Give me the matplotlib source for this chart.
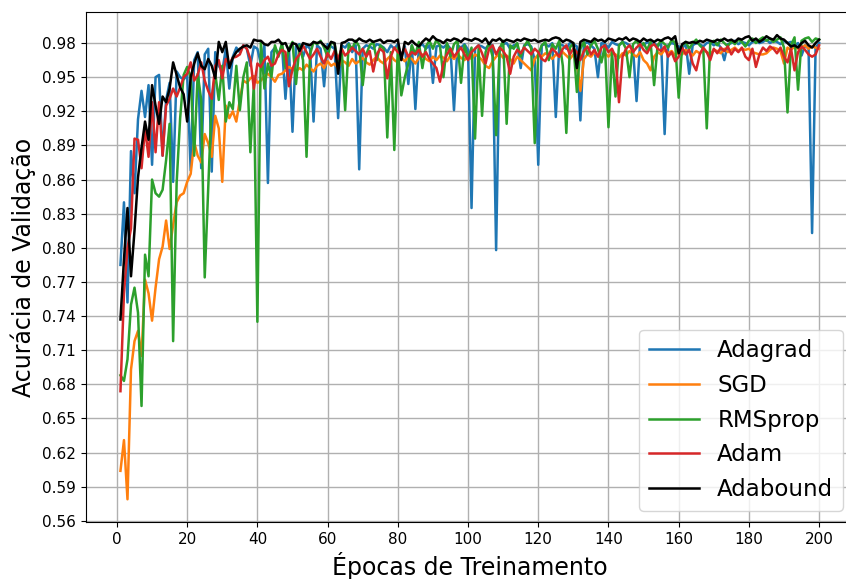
import numpy as np
import matplotlib
matplotlib.use("Agg")
import matplotlib.pyplot as plt

# validation accuracy per epoch
adagrad = [
    0.785, 0.840, 0.752, 0.885, 0.848, 0.913, 0.938, 0.915, 0.943, 0.873,
    0.950, 0.952, 0.881, 0.930, 0.945, 0.858, 0.955, 0.950, 0.948, 0.952,
    0.868, 0.965, 0.972, 0.870, 0.970, 0.975, 0.867, 0.972, 0.960, 0.955,
    0.975, 0.940, 0.968, 0.976, 0.972, 0.978, 0.975, 0.960, 0.977, 0.975,
    0.962, 0.978, 0.857, 0.972, 0.976, 0.970, 0.978, 0.931, 0.975, 0.902,
    0.977, 0.979, 0.968, 0.978, 0.975, 0.911, 0.978, 0.975, 0.942, 0.979,
    0.977, 0.975, 0.914, 0.978, 0.976, 0.980, 0.972, 0.978, 0.869, 0.975,
    0.978, 0.977, 0.975, 0.979, 0.978, 0.976, 0.972, 0.978, 0.975, 0.979,
    0.968, 0.977, 0.944, 0.978, 0.922, 0.977, 0.979, 0.975, 0.978, 0.945,
    0.977, 0.978, 0.976, 0.979, 0.975, 0.921, 0.978, 0.976, 0.979, 0.974,
    0.835, 0.975, 0.978, 0.977, 0.975, 0.979, 0.978, 0.798, 0.976, 0.979,
    0.980, 0.975, 0.978, 0.979, 0.958, 0.978, 0.979, 0.977, 0.965, 0.873,
    0.978, 0.979, 0.977, 0.980, 0.915, 0.979, 0.978, 0.975, 0.980, 0.979,
    0.977, 0.912, 0.979, 0.981, 0.978, 0.975, 0.950, 0.980, 0.979, 0.976,
    0.981, 0.979, 0.978, 0.981, 0.980, 0.978, 0.975, 0.929, 0.980, 0.978,
    0.981, 0.979, 0.980, 0.977, 0.980, 0.900, 0.978, 0.980, 0.979, 0.977,
    0.975, 0.980, 0.953, 0.978, 0.980, 0.979, 0.977, 0.980, 0.981, 0.978,
    0.980, 0.976, 0.965, 0.979, 0.980, 0.982, 0.979, 0.981, 0.980, 0.978,
    0.981, 0.982, 0.980, 0.981, 0.983, 0.980, 0.982, 0.981, 0.979, 0.982,
    0.980, 0.981, 0.978, 0.980, 0.969, 0.978, 0.975, 0.813, 0.976, 0.980,
]

sgd = [
    0.604, 0.631, 0.579, 0.693, 0.718, 0.727, 0.705, 0.772, 0.760, 0.736,
    0.765, 0.790, 0.801, 0.824, 0.799, 0.820, 0.840, 0.846, 0.848, 0.858,
    0.865, 0.893, 0.881, 0.875, 0.900, 0.892, 0.880, 0.916, 0.905, 0.858,
    0.925, 0.914, 0.920, 0.911, 0.930, 0.947, 0.945, 0.949, 0.951, 0.945,
    0.947, 0.951, 0.953, 0.950, 0.946, 0.952, 0.953, 0.956, 0.959, 0.957,
    0.955, 0.958, 0.956, 0.961, 0.958, 0.955, 0.960, 0.962, 0.958, 0.964,
    0.960, 0.962, 0.958, 0.965, 0.963, 0.960, 0.966, 0.962, 0.964, 0.967,
    0.963, 0.961, 0.965, 0.968, 0.964, 0.962, 0.966, 0.969, 0.965, 0.963,
    0.967, 0.964, 0.968, 0.966, 0.962, 0.967, 0.970, 0.966, 0.964, 0.968,
    0.965, 0.969, 0.967, 0.964, 0.969, 0.966, 0.970, 0.967, 0.965, 0.969,
    0.966, 0.970, 0.968, 0.965, 0.960, 0.958, 0.964, 0.968, 0.971, 0.967,
    0.969, 0.966, 0.962, 0.968, 0.965, 0.962, 0.959, 0.956, 0.966, 0.970,
    0.968, 0.971, 0.969, 0.966, 0.970, 0.968, 0.972, 0.969, 0.966, 0.970,
    0.962, 0.938, 0.966, 0.970, 0.968, 0.972, 0.969, 0.966, 0.971, 0.968,
    0.972, 0.970, 0.967, 0.971, 0.969, 0.973, 0.970, 0.968, 0.972, 0.965,
    0.962, 0.956, 0.968, 0.972, 0.970, 0.974, 0.971, 0.973, 0.969, 0.972,
    0.970, 0.974, 0.972, 0.969, 0.973, 0.971, 0.974, 0.972, 0.970, 0.974,
    0.973, 0.971, 0.975, 0.972, 0.974, 0.976, 0.973, 0.975, 0.974, 0.975,
    0.972, 0.971, 0.970, 0.970, 0.971, 0.974, 0.976, 0.975, 0.973, 0.962,
    0.976, 0.974, 0.977, 0.975, 0.976, 0.978, 0.975, 0.977, 0.976, 0.975,
]

rmsprop = [
    0.688, 0.683, 0.702, 0.750, 0.765, 0.743, 0.661, 0.794, 0.775, 0.860,
    0.848, 0.845, 0.851, 0.877, 0.909, 0.718, 0.857, 0.914, 0.952, 0.959,
    0.950, 0.881, 0.953, 0.930, 0.774, 0.852, 0.931, 0.953, 0.930, 0.960,
    0.911, 0.928, 0.922, 0.960, 0.921, 0.950, 0.963, 0.884, 0.945, 0.735,
    0.981, 0.940, 0.962, 0.950, 0.978, 0.968, 0.980, 0.958, 0.975, 0.981,
    0.944, 0.978, 0.965, 0.880, 0.970, 0.981, 0.979, 0.982, 0.976, 0.968,
    0.981, 0.979, 0.963, 0.975, 0.921, 0.979, 0.975, 0.982, 0.977, 0.943,
    0.970, 0.978, 0.981, 0.965, 0.978, 0.975, 0.897, 0.972, 0.886, 0.976,
    0.934, 0.950, 0.962, 0.978, 0.970, 0.981, 0.958, 0.977, 0.982, 0.975,
    0.983, 0.978, 0.950, 0.980, 0.968, 0.979, 0.982, 0.945, 0.978, 0.966,
    0.976, 0.896, 0.975, 0.916, 0.972, 0.980, 0.968, 0.899, 0.975, 0.982,
    0.909, 0.978, 0.975, 0.980, 0.968, 0.977, 0.982, 0.975, 0.892, 0.970,
    0.978, 0.981, 0.965, 0.979, 0.975, 0.982, 0.960, 0.901, 0.976, 0.980,
    0.937, 0.975, 0.981, 0.970, 0.978, 0.982, 0.975, 0.963, 0.978, 0.906,
    0.972, 0.933, 0.978, 0.981, 0.975, 0.950, 0.979, 0.982, 0.977, 0.980,
    0.974, 0.981, 0.943, 0.978, 0.982, 0.979, 0.976, 0.983, 0.980, 0.932,
    0.978, 0.981, 0.975, 0.980, 0.983, 0.978, 0.975, 0.905, 0.980, 0.982,
    0.978, 0.983, 0.980, 0.977, 0.982, 0.979, 0.983, 0.981, 0.977, 0.982,
    0.984, 0.980, 0.983, 0.985, 0.982, 0.984, 0.981, 0.983, 0.985, 0.976,
    0.919, 0.978, 0.985, 0.939, 0.982, 0.984, 0.985, 0.981, 0.984, 0.983,
]

adam = [
    0.674, 0.760, 0.800, 0.817, 0.896, 0.895, 0.870, 0.905, 0.880, 0.928,
    0.884, 0.928, 0.881, 0.925, 0.931, 0.940, 0.933, 0.941, 0.950, 0.953,
    0.963, 0.947, 0.952, 0.963, 0.947, 0.938, 0.931, 0.960, 0.965, 0.949,
    0.966, 0.962, 0.967, 0.968, 0.970, 0.978, 0.975, 0.966, 0.940, 0.962,
    0.959, 0.965, 0.968, 0.960, 0.962, 0.970, 0.974, 0.972, 0.942, 0.957,
    0.966, 0.970, 0.978, 0.972, 0.966, 0.970, 0.975, 0.968, 0.962, 0.971,
    0.966, 0.973, 0.966, 0.975, 0.969, 0.972, 0.976, 0.973, 0.970, 0.975,
    0.968, 0.973, 0.955, 0.970, 0.975, 0.972, 0.949, 0.968, 0.976, 0.972,
    0.970, 0.975, 0.968, 0.972, 0.970, 0.974, 0.968, 0.972, 0.966, 0.962,
    0.958, 0.946, 0.962, 0.970, 0.975, 0.968, 0.972, 0.976, 0.970, 0.965,
    0.972, 0.975, 0.978, 0.971, 0.962, 0.975, 0.978, 0.970, 0.976, 0.973,
    0.968, 0.953, 0.968, 0.974, 0.971, 0.976, 0.973, 0.970, 0.975, 0.972,
    0.966, 0.964, 0.970, 0.975, 0.972, 0.968, 0.975, 0.978, 0.970, 0.975,
    0.972, 0.965, 0.973, 0.977, 0.970, 0.974, 0.968, 0.976, 0.978, 0.972,
    0.975, 0.968, 0.928, 0.968, 0.975, 0.978, 0.972, 0.976, 0.979, 0.974,
    0.971, 0.977, 0.979, 0.975, 0.973, 0.977, 0.968, 0.972, 0.964, 0.968,
    0.976, 0.970, 0.974, 0.962, 0.956, 0.970, 0.976, 0.972, 0.965, 0.975,
    0.971, 0.976, 0.973, 0.977, 0.970, 0.975, 0.972, 0.976, 0.968, 0.965,
    0.975, 0.959, 0.970, 0.976, 0.973, 0.977, 0.975, 0.971, 0.976, 0.968,
    0.963, 0.975, 0.956, 0.972, 0.977, 0.974, 0.970, 0.968, 0.970, 0.978,
]

adabound = [
    0.737, 0.790, 0.835, 0.775, 0.815, 0.862, 0.888, 0.911, 0.895, 0.943,
    0.925, 0.909, 0.933, 0.928, 0.940, 0.963, 0.952, 0.941, 0.935, 0.911,
    0.950, 0.962, 0.971, 0.960, 0.957, 0.966, 0.960, 0.949, 0.981, 0.972,
    0.981, 0.958, 0.967, 0.972, 0.975, 0.977, 0.978, 0.976, 0.983, 0.982,
    0.982, 0.979, 0.978, 0.981, 0.981, 0.983, 0.979, 0.980, 0.973, 0.980,
    0.979, 0.973, 0.980, 0.979, 0.978, 0.981, 0.980, 0.981, 0.978, 0.975,
    0.981, 0.980, 0.953, 0.980, 0.981, 0.983, 0.983, 0.981, 0.984, 0.982,
    0.981, 0.983, 0.981, 0.982, 0.983, 0.980, 0.982, 0.982, 0.981, 0.983,
    0.965, 0.981, 0.979, 0.982, 0.979, 0.977, 0.981, 0.984, 0.982, 0.986,
    0.983, 0.982, 0.980, 0.983, 0.982, 0.984, 0.983, 0.981, 0.984, 0.983,
    0.982, 0.984, 0.983, 0.981, 0.984, 0.979, 0.983, 0.982, 0.984, 0.981,
    0.983, 0.982, 0.981, 0.983, 0.982, 0.984, 0.983, 0.982, 0.983, 0.981,
    0.982, 0.983, 0.982, 0.984, 0.985, 0.984, 0.981, 0.983, 0.982, 0.980,
    0.958, 0.981, 0.983, 0.982, 0.981, 0.984, 0.982, 0.983, 0.981, 0.984,
    0.983, 0.982, 0.984, 0.983, 0.985, 0.982, 0.984, 0.983, 0.981, 0.984,
    0.982, 0.983, 0.981, 0.983, 0.982, 0.984, 0.985, 0.983, 0.986, 0.971,
    0.979, 0.981, 0.980, 0.981, 0.980, 0.982, 0.981, 0.983, 0.982, 0.981,
    0.983, 0.982, 0.984, 0.982, 0.983, 0.981, 0.984, 0.983, 0.985, 0.986,
    0.982, 0.984, 0.981, 0.983, 0.986, 0.984, 0.983, 0.987, 0.984, 0.983,
    0.980, 0.977, 0.978, 0.976, 0.980, 0.982, 0.978, 0.976, 0.980, 0.983,
]

series = [
    ("Adagrad", adagrad, "tab:blue"),
    ("SGD", sgd, "tab:orange"),
    ("RMSprop", rmsprop, "tab:green"),
    ("Adam", adam, "tab:red"),
    ("Adabound", adabound, "black"),
]

epochs = np.arange(1, len(adagrad) + 1)

fig = plt.figure(figsize=(8.46, 5.79), dpi=100)
# the original image is cropped on the right, so the axes runs past the edge
ax = fig.add_axes([0.1011, 0.0984, 0.9084, 0.8809])

for name, vals, color in series:
    ax.plot(epochs, vals, color=color, lw=1.8, label=name)

ax.set_ylim(0.5590, 1.0073)
ax.set_yticks(np.arange(0.56, 0.981, 0.03))
ax.set_xticks(np.arange(0, 201, 20))
ax.tick_params(labelsize=11)
ax.grid(True, color="#b0b0b0", lw=1.0)

ax.set_xlabel("Épocas de Treinamento", fontsize=17)
ax.set_ylabel("Acurácia de Validação", fontsize=17)
ax.legend(loc="lower right", fontsize=16.5, labelspacing=0.52,
          handlelength=2.2)

fig.savefig("out.png", dpi=100)
